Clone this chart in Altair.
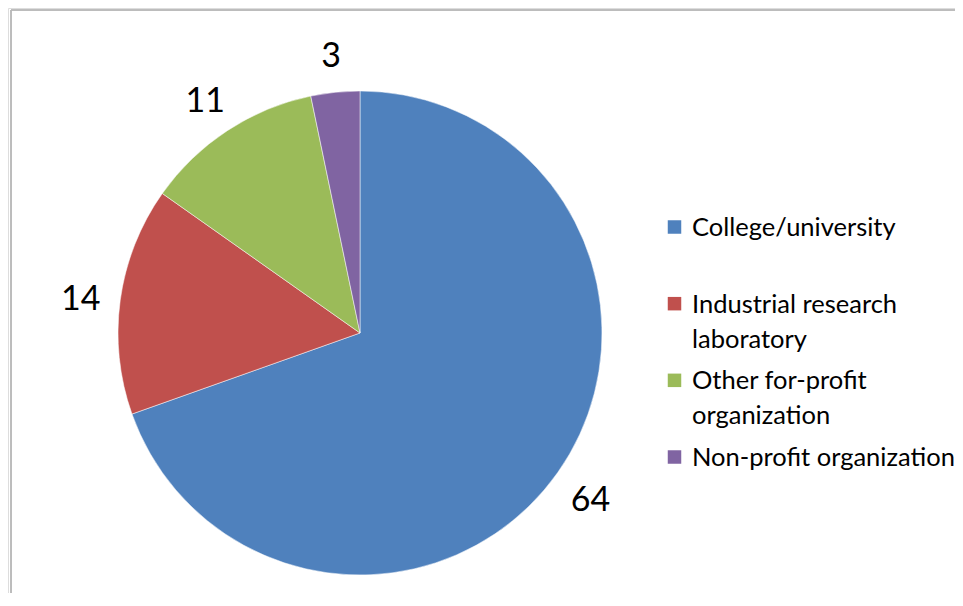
import altair as alt
import pandas as pd

categories = ["College/university", "Industrial research laboratory",
              "Other for-profit organization", "Non-profit organization"]
values = [64, 14, 11, 3]
legend_labels = ["College/university",
                 "Industrial research|laboratory",
                 "Other for-profit|organization",
                 "Non-profit organization"]
colors = ["#4F81BD", "#C0504D", "#9BBB59", "#8064A2"]

df = pd.DataFrame({"category": categories, "value": values,
                   "label": legend_labels,
                   "order": list(range(len(categories)))})

CX, CY, R = 352, 325, 242
FONT = "Lato"
color_scale = alt.Scale(domain=categories, range=colors)

base = alt.Chart(df).encode(
    theta=alt.Theta("value:Q", stack=True),
    order=alt.Order("order:Q"),
)

pie = base.mark_arc(outerRadius=R, stroke="white", strokeWidth=0.5).encode(
    x=alt.value(CX), y=alt.value(CY),
    color=alt.Color("category:N", scale=color_scale, legend=None),
)

labels = base.mark_text(radius=282, font=FONT, fontSize=34, color="black",
                        align="center", baseline="middle", dy=5).encode(
    x=alt.value(CX), y=alt.value(CY),
    text=alt.Text("value:Q"),
)

# legend drawn as marks
leg_y = alt.Y("category:N",
              scale=alt.Scale(type="point", domain=categories,
                              range=[219, 449], padding=0),
              axis=None)
leg_sym = alt.Chart(df).mark_square(size=182, opacity=1).encode(
    x=alt.value(666.5), y=leg_y,
    color=alt.Color("category:N", scale=color_scale, legend=None),
)
leg_txt = alt.Chart(df).mark_text(
    align="left", baseline="top", lineBreak="|", lineHeight=35,
    font=FONT, fontSize=25.5, color="black", dy=-11,
).encode(x=alt.value(684), y=leg_y, text="label:N")

frame_top = alt.Chart(df).mark_rule(color="#b8b8b8", strokeWidth=1).encode(
    x=alt.value(3), x2=alt.value(947), y=alt.value(2))
frame_left = alt.Chart(df).mark_rule(color="#b8b8b8", strokeWidth=1).encode(
    x=alt.value(3), y=alt.value(2), y2=alt.value(585))

chart = alt.layer(frame_top, frame_left, pie, labels, leg_sym, leg_txt).properties(
    width=947, height=585,
    autosize=alt.AutoSizeParams(type="none"),
    padding=0,
).configure_view(stroke=None).configure(background="white")

chart.save("out.html", embed_options={"renderer": "svg", "actions": False})
